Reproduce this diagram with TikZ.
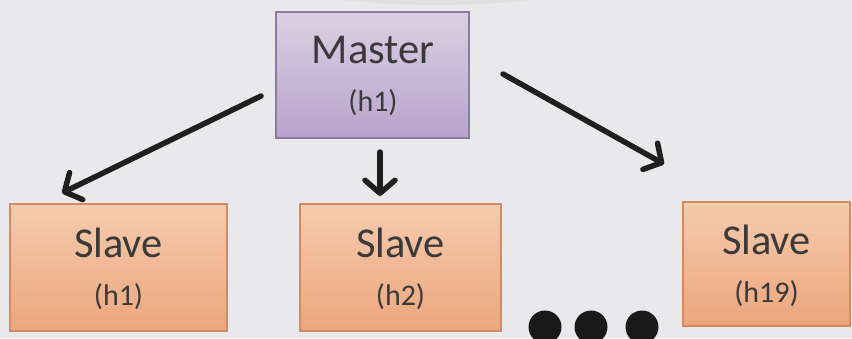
\documentclass[tikz,border=0pt]{standalone}
\usepackage{fontspec}
\setmainfont{Carlito}
\usetikzlibrary{arrows.meta}
\definecolor{bg}{HTML}{E9E9EB}
\definecolor{txt}{HTML}{3A3A3A}
\definecolor{mtop}{HTML}{DAD0E2}
\definecolor{mbot}{HTML}{B9A3CD}
\definecolor{mdraw}{HTML}{8C7AA6}
\definecolor{stop}{HTML}{F5CBAE}
\definecolor{sbot}{HTML}{ECA67C}
\definecolor{sdraw}{HTML}{D38A5E}
\tikzset{
  masterbox/.style={draw=mdraw, line width=1.6pt, top color=mtop, bottom color=mbot, inner sep=0pt},
  slavebox/.style={draw=sdraw, line width=1.6pt, top color=stop, bottom color=sbot, inner sep=0pt},
  bigtext/.style={text=txt, font=\fontsize{42.5}{44}\selectfont, inner sep=0pt, anchor=base},
  smalltext/.style={text=txt, font=\fontsize{30}{32}\selectfont, inner sep=0pt},
  link/.style={line width=5.5pt, draw=black!88, line cap=round,
    -{Straight Barb[length=13pt, width=30pt, line width=5.5pt, round]}},
  dot/.style={circle, fill=black!90, minimum size=33pt, inner sep=0pt}
}
\begin{document}
\begin{tikzpicture}[x=1pt, y=-1pt]
  \path[use as bounding box, fill=bg] (0,0) rectangle (852,338);
  \begin{scope}
    \clip (0,0) rectangle (852,338);
    \fill[black!12] (437,-100) ellipse [x radius=311, y radius=105];
    % boxes
    \node[masterbox, minimum width=193pt, minimum height=126pt] (m) at (372.5,75) {};
    \node[slavebox, minimum width=217pt, minimum height=127pt] (s1) at (118.5,267.5) {};
    \node[slavebox, minimum width=201pt, minimum height=127pt] (s2) at (400.5,267.5) {};
    \node[slavebox, minimum width=167pt, minimum height=124pt] (s3) at (766.5,264) {};
    % labels
    \node[bigtext] (mt) at (373,63) {Master};
    \node[smalltext] (mh) at (373,103) {(h1)};
    \node[bigtext] (s1t) at (118.5,257) {Slave};
    \node[smalltext] (s1h) at (118.5,297) {(h1)};
    \node[bigtext] (s2t) at (400.5,257) {Slave};
    \node[smalltext] (s2h) at (400.5,297) {(h2)};
    \node[bigtext] (s3t) at (766.5,254) {Slave};
    \node[smalltext] (s3h) at (766.5,294) {(h19)};
    % arrow ends
    \coordinate (a1) at (261,96);
    \coordinate (b1) at (62,193);
    \coordinate (a2) at (380,152);
    \coordinate (b2) at (380,196);
    \coordinate (a3) at (503,74);
    \coordinate (b3) at (664,164);
    \draw[link] (a1) -- (b1);
    \draw[link] (a2) -- (b2);
    \draw[link] (a3) -- (b3);
    % ellipsis dots
    \node[dot] (d1) at (545,327) {};
    \node[dot] (d2) at (591,327) {};
    \node[dot] (d3) at (642,327) {};
  \end{scope}
\end{tikzpicture}
\end{document}
